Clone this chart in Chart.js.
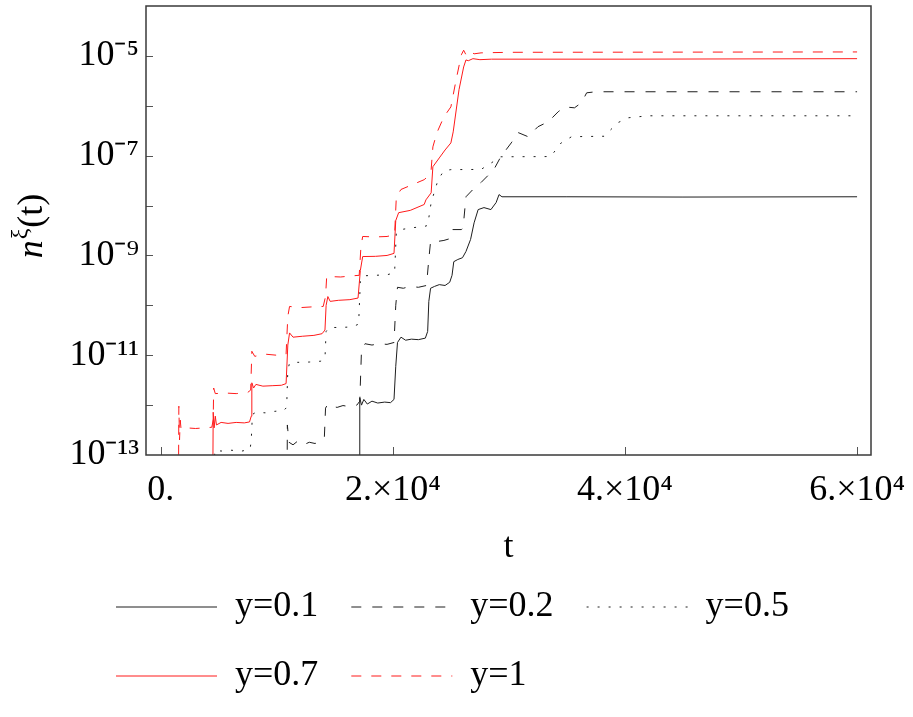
<!DOCTYPE html>
<html>
<head>
<meta charset="utf-8">
<script src="https://cdn.jsdelivr.net/npm/chart.js@4.4.1/dist/chart.umd.min.js"></script>
<style>
  body { margin: 0; background: #fff; }
  #wrap { width: 913px; height: 717px; }
</style>
</head>
<body>
<div id="wrap"><canvas id="chart"></canvas></div>
<script>
// values (t, n^xi(t)); 1e-15 = below the visible range
const tY01 = [17100, 17150, 17300, 17500, 17800, 18200, 18700, 19300, 19800, 20100, 20250, 20400, 20700, 21100, 21600, 22200, 22800, 23000, 23100, 23250, 23600, 24000, 24500, 24900, 25100, 25250, 25600, 26000, 26300, 26700, 27000, 27350, 27850, 28450, 28900, 29150, 29400, 35000, 45000, 60000];
const nY01 = [1e-15, 1.4e-12, 1.0e-12, 1.3e-12, 1.05e-12, 1.2e-12, 1.1e-12, 1.15e-12, 1.12e-12, 1.3e-12, 6e-12, 1.8e-11, 2.3e-11, 2.0e-11, 2.1e-11, 2.05e-11, 2.2e-11, 3e-11, 1.2e-10, 2.2e-10, 2.4e-10, 2.6e-10, 2.5e-10, 2.9e-10, 4e-10, 7.5e-10, 8.3e-10, 9e-10, 1.2e-9, 2.1e-9, 4.5e-9, 8.3e-9, 9.1e-9, 8.3e-9, 1.15e-8, 1.66e-8, 1.5e-8, 1.5e-8, 1.48e-8, 1.5e-8];

const tY02 = [10850, 10910, 11050, 11400, 11800, 12300, 12800, 13300, 13800, 14100, 14200, 14400, 14700, 15200, 15700, 16300, 16900, 17150, 17300, 17600, 18200, 18800, 19500, 20100, 20250, 20400, 20900, 21500, 22200, 22900, 23090, 23250, 23800, 24400, 25000, 25160, 25900, 26050, 26300, 26900, 27600, 28700, 29300, 30200, 30800, 31650, 32500, 33400, 34250, 34800, 35650, 36250, 36700, 37500, 60000];
const nY02 = [1e-15, 4e-13, 1.8e-13, 1.6e-13, 1.9e-13, 1.6e-13, 1.8e-13, 1.7e-13, 1.9e-13, 2.3e-13, 8.7e-13, 1.05e-12, 9.5e-13, 9e-13, 9.8e-13, 9.3e-13, 1.0e-12, 1.2e-12, 1.3e-11, 1.7e-11, 1.6e-11, 1.7e-11, 1.65e-11, 1.8e-11, 1.0e-10, 2.3e-10, 2.2e-10, 2.4e-10, 2.3e-10, 2.5e-10, 8e-10, 1.9e-9, 1.9e-9, 2.0e-9, 2.2e-9, 3.3e-9, 3.3e-9, 3.5e-9, 1.5e-8, 2.1e-8, 2.9e-8, 5.25e-8, 9.5e-8, 1.8e-7, 2.9e-7, 2.4e-7, 3.8e-7, 4.8e-7, 7.6e-7, 9.5e-7, 9.1e-7, 1.15e-6, 1.82e-6, 1.91e-6, 1.91e-6];

const tY05 = [4600, 4650, 5200, 6000, 7000, 7700, 7800, 7900, 8200, 9000, 9800, 10600, 10850, 10950, 11100, 11800, 12800, 13800, 14150, 14250, 14500, 15500, 16500, 17050, 17200, 17400, 18500, 19500, 20150, 20300, 20700, 21700, 22700, 23000, 23300, 23900, 24400, 25000, 27600, 28500, 29300, 33600, 34500, 35400, 38200, 39400, 40300, 42000, 60000];
const nY05 = [1e-15, 1.25e-13, 1.2e-13, 1.25e-13, 1.2e-13, 1.3e-13, 2e-13, 6.5e-13, 7.2e-13, 7.0e-13, 7.5e-13, 7.8e-13, 9e-13, 5e-12, 7e-12, 7.2e-12, 7.3e-12, 7.6e-12, 8.5e-12, 3e-11, 3.6e-11, 3.6e-11, 3.7e-11, 4.2e-11, 3.0e-10, 3.9e-10, 4.0e-10, 4.1e-10, 4.5e-10, 2.9e-9, 3.3e-9, 3.6e-9, 3.8e-9, 4e-9, 1.15e-8, 3.3e-8, 5.0e-8, 5.25e-8, 5.3e-8, 7.2e-8, 9.5e-8, 9.6e-8, 1.8e-7, 2.4e-7, 2.45e-7, 4.6e-7, 5.75e-7, 6.3e-7, 6.3e-7];

const tY07 = [4450, 4520, 4600, 4700, 4800, 5200, 5800, 6500, 7200, 7650, 7800, 7850, 8000, 8200, 8800, 9600, 10400, 10800, 10950, 11100, 11400, 12200, 13200, 13900, 14150, 14250, 14400, 14600, 15300, 16300, 17000, 17200, 17400, 18500, 19500, 20100, 20250, 20500, 21500, 22700, 22850, 23300, 23450, 24000, 24500, 25000, 25200, 25700, 26100, 26300, 26500, 26900, 27500, 28500, 40000, 60000];
const nY07 = [1e-15, 7.2e-13, 3.5e-13, 6e-13, 4.0e-13, 4.5e-13, 4.3e-13, 4.5e-13, 4.4e-13, 4.6e-13, 6e-13, 2.8e-12, 2.2e-12, 2.6e-12, 2.4e-12, 2.45e-12, 2.5e-12, 2.7e-12, 1.6e-11, 2.8e-11, 2.3e-11, 2.4e-11, 2.5e-11, 2.7e-11, 3.2e-11, 1.0e-10, 1.5e-10, 1.2e-10, 1.26e-10, 1.3e-10, 1.4e-10, 5e-10, 9.5e-10, 9.6e-10, 1.0e-9, 1.1e-9, 5e-9, 7.2e-9, 8e-9, 1.05e-8, 1.3e-8, 1.8e-8, 6.0e-8, 9e-8, 1.3e-7, 1.8e-7, 3e-7, 2.1e-6, 6e-6, 8.3e-6, 8.0e-6, 8.8e-6, 8.4e-6, 8.6e-6, 8.6e-6, 8.8e-6];

const tY1 = [1500, 1560, 1620, 1680, 1750, 2200, 3000, 3800, 4400, 4520, 4560, 4700, 5500, 6500, 7500, 7750, 7850, 8100, 9000, 10000, 10800, 10950, 11100, 12000, 13000, 14000, 14200, 14300, 15500, 16500, 17100, 17250, 17400, 18500, 19500, 20150, 20300, 20700, 22700, 23100, 23300, 23450, 23800, 24400, 25000, 25450, 25900, 26100, 26300, 26600, 27000, 27600, 30000, 60000];
const nY1 = [1e-15, 9.5e-13, 2e-13, 5e-13, 3.3e-13, 3.5e-13, 3.4e-13, 3.5e-13, 3.6e-13, 5e-13, 2.2e-12, 1.7e-12, 1.75e-12, 1.7e-12, 1.8e-12, 2e-12, 1.2e-11, 9.5e-12, 1.05e-11, 1.0e-11, 1.05e-11, 6e-11, 9.5e-11, 9e-11, 9.3e-11, 9.5e-11, 1.5e-10, 3.8e-10, 3.7e-10, 3.9e-10, 4e-10, 1.5e-9, 2.4e-9, 2.35e-9, 2.4e-9, 2.6e-9, 1.5e-8, 2.1e-8, 3.3e-8, 4e-8, 5.25e-8, 1.5e-7, 2.9e-7, 6e-7, 9.5e-7, 3.3e-6, 1.05e-5, 1.3e-5, 1.05e-5, 1.25e-5, 1.1e-5, 1.15e-5, 1.18e-5, 1.2e-5];

const seriesLabels = ['y=0.1', 'y=0.2', 'y=0.5', 'y=0.7', 'y=1'];
const xTickValues = [0, 20000, 40000, 60000];
const xTickLabels = ['0.', '2.×10⁴', '4.×10⁴', '6.×10⁴'];
const yTickExps = [-13, -12, -11, -10, -9, -8, -7, -6, -5];

const SUP = {'-': '⁻', '0': '⁰', '1': '¹', '2': '²', '3': '³', '4': '⁴', '5': '⁵', '6': '⁶', '7': '⁷', '8': '⁸', '9': '⁹'};
const sup = s => String(s).split('').map(c => SUP[c]).join('');
const pts = (t, n) => t.map((v, i) => ({x: v, y: n[i]}));

const SERIF = "'Liberation Serif', 'Times New Roman', serif";
const BLACK = '#1e1e1e';
const RED = '#ff1a1a';

// frame, inward ticks and the y title (n italic with xi superscript)
const framePlugin = {
  id: 'frame',
  afterLayout(chart) {
    // legend rows start under the plot, not at the canvas edge
    if (chart.legend) chart.legend.left = 83;
  },
  afterDraw(chart) {
    const {ctx, chartArea: a, scales: {x, y}} = chart;
    ctx.save();
    ctx.strokeStyle = '#555';
    ctx.lineWidth = 1;
    ctx.beginPath();
    yTickExps.forEach(e => {
      if (e === -13) return;
      const py = Math.round(y.getPixelForValue(Math.pow(10, e))) + 0.5;
      ctx.moveTo(a.left, py);
      ctx.lineTo(a.left + 7, py);
    });
    xTickValues.forEach(v => {
      const px = Math.round(x.getPixelForValue(v)) + 0.5;
      ctx.moveTo(px, a.bottom);
      ctx.lineTo(px, a.bottom - 8);
    });
    ctx.stroke();
    ctx.strokeStyle = '#3a3a3a';
    ctx.lineWidth = 1.5;
    ctx.strokeRect(a.left, a.top, a.right - a.left, a.bottom - a.top);

    ctx.translate(42, 226);
    ctx.rotate(-Math.PI / 2);
    ctx.fillStyle = '#000';
    ctx.textBaseline = 'alphabetic';
    ctx.textAlign = 'left';
    const f1 = 'italic 36px ' + SERIF, f2 = '24px ' + SERIF, f3 = '36px ' + SERIF;
    ctx.font = f1; const w1 = ctx.measureText('n').width;
    ctx.font = f2; const w2 = ctx.measureText('ξ').width;
    ctx.font = f3; const w3 = ctx.measureText('(t)').width;
    let cx = -(w1 + w2 + w3 + 2) / 2;
    ctx.font = f1; ctx.fillText('n', cx, 0); cx += w1 + 1;
    ctx.font = f2; ctx.fillText('ξ', cx, -15); cx += w2 + 1;
    ctx.font = f3; ctx.fillText('(t)', cx, 0);
    ctx.restore();
  }
};

new Chart(document.getElementById('chart'), {
  type: 'line',
  data: {
    datasets: [
      {label: seriesLabels[0], data: pts(tY01, nY01), borderColor: BLACK, borderWidth: 1},
      {label: seriesLabels[1], data: pts(tY02, nY02), borderColor: BLACK, borderWidth: 1, borderDash: [10, 11]},
      {label: seriesLabels[2], data: pts(tY05, nY05), borderColor: BLACK, borderWidth: 1, borderDash: [2, 9]},
      {label: seriesLabels[3], data: pts(tY07, nY07), borderColor: RED, borderWidth: 1},
      {label: seriesLabels[4], data: pts(tY1, nY1), borderColor: RED, borderWidth: 1, borderDash: [10, 10]}
    ]
  },
  options: {
    responsive: true,
    maintainAspectRatio: false,
    animation: false,
    elements: {point: {radius: 0}, line: {tension: 0, fill: false}},
    layout: {padding: {left: 0, right: 42, top: 6, bottom: 13}},
    scales: {
      x: {
        type: 'linear',
        min: -1270,
        max: 61200,
        grid: {display: false, drawTicks: false},
        border: {display: false},
        afterBuildTicks: s => { s.ticks = xTickValues.map(v => ({value: v})); },
        afterFit: s => { s.height = 101; s.paddingLeft = 0; s.paddingRight = 0; },
        ticks: {
          autoSkip: false,
          maxRotation: 0,
          padding: 14,
          color: '#000',
          font: {family: SERIF, size: 36},
          callback: (v, i) => xTickLabels[i]
        },
        title: {
          display: true,
          text: 't',
          color: '#000',
          font: {family: SERIF, size: 36},
          padding: {top: 0, bottom: -13}
        }
      },
      y: {
        type: 'logarithmic',
        min: 1e-13,
        max: 1e-4,
        grid: {display: false, drawTicks: false},
        border: {display: false},
        afterBuildTicks: s => { s.ticks = yTickExps.map(e => ({value: Math.pow(10, e)})); },
        afterFit: s => { s.width = 146; s.paddingTop = 0; s.paddingBottom = 0; },
        ticks: {
          autoSkip: false,
          padding: 7,
          color: '#000',
          font: {family: SERIF, size: 36},
          callback: v => {
            const e = Math.round(Math.log10(v));
            return e % 2 !== 0 ? '10' + sup(e) : '';
          }
        }
      }
    },
    plugins: {
      tooltip: {enabled: false},
      legend: {
        position: 'bottom',
        align: 'start',
        labels: {
          usePointStyle: true,
          pointStyle: 'line',
          pointStyleWidth: 101,
          padding: 33,
          color: '#000',
          font: {family: SERIF, size: 36},
          // point-style items take the point's style, so put the line dash back
          generateLabels: chart => Chart.defaults.plugins.legend.labels.generateLabels(chart).map((item, i) => {
            const ds = chart.data.datasets[i];
            return Object.assign(item, {lineDash: ds.borderDash || [], lineWidth: ds.borderWidth, strokeStyle: ds.borderColor});
          })
        }
      }
    }
  },
  plugins: [framePlugin]
});
</script>
</body>
</html>
